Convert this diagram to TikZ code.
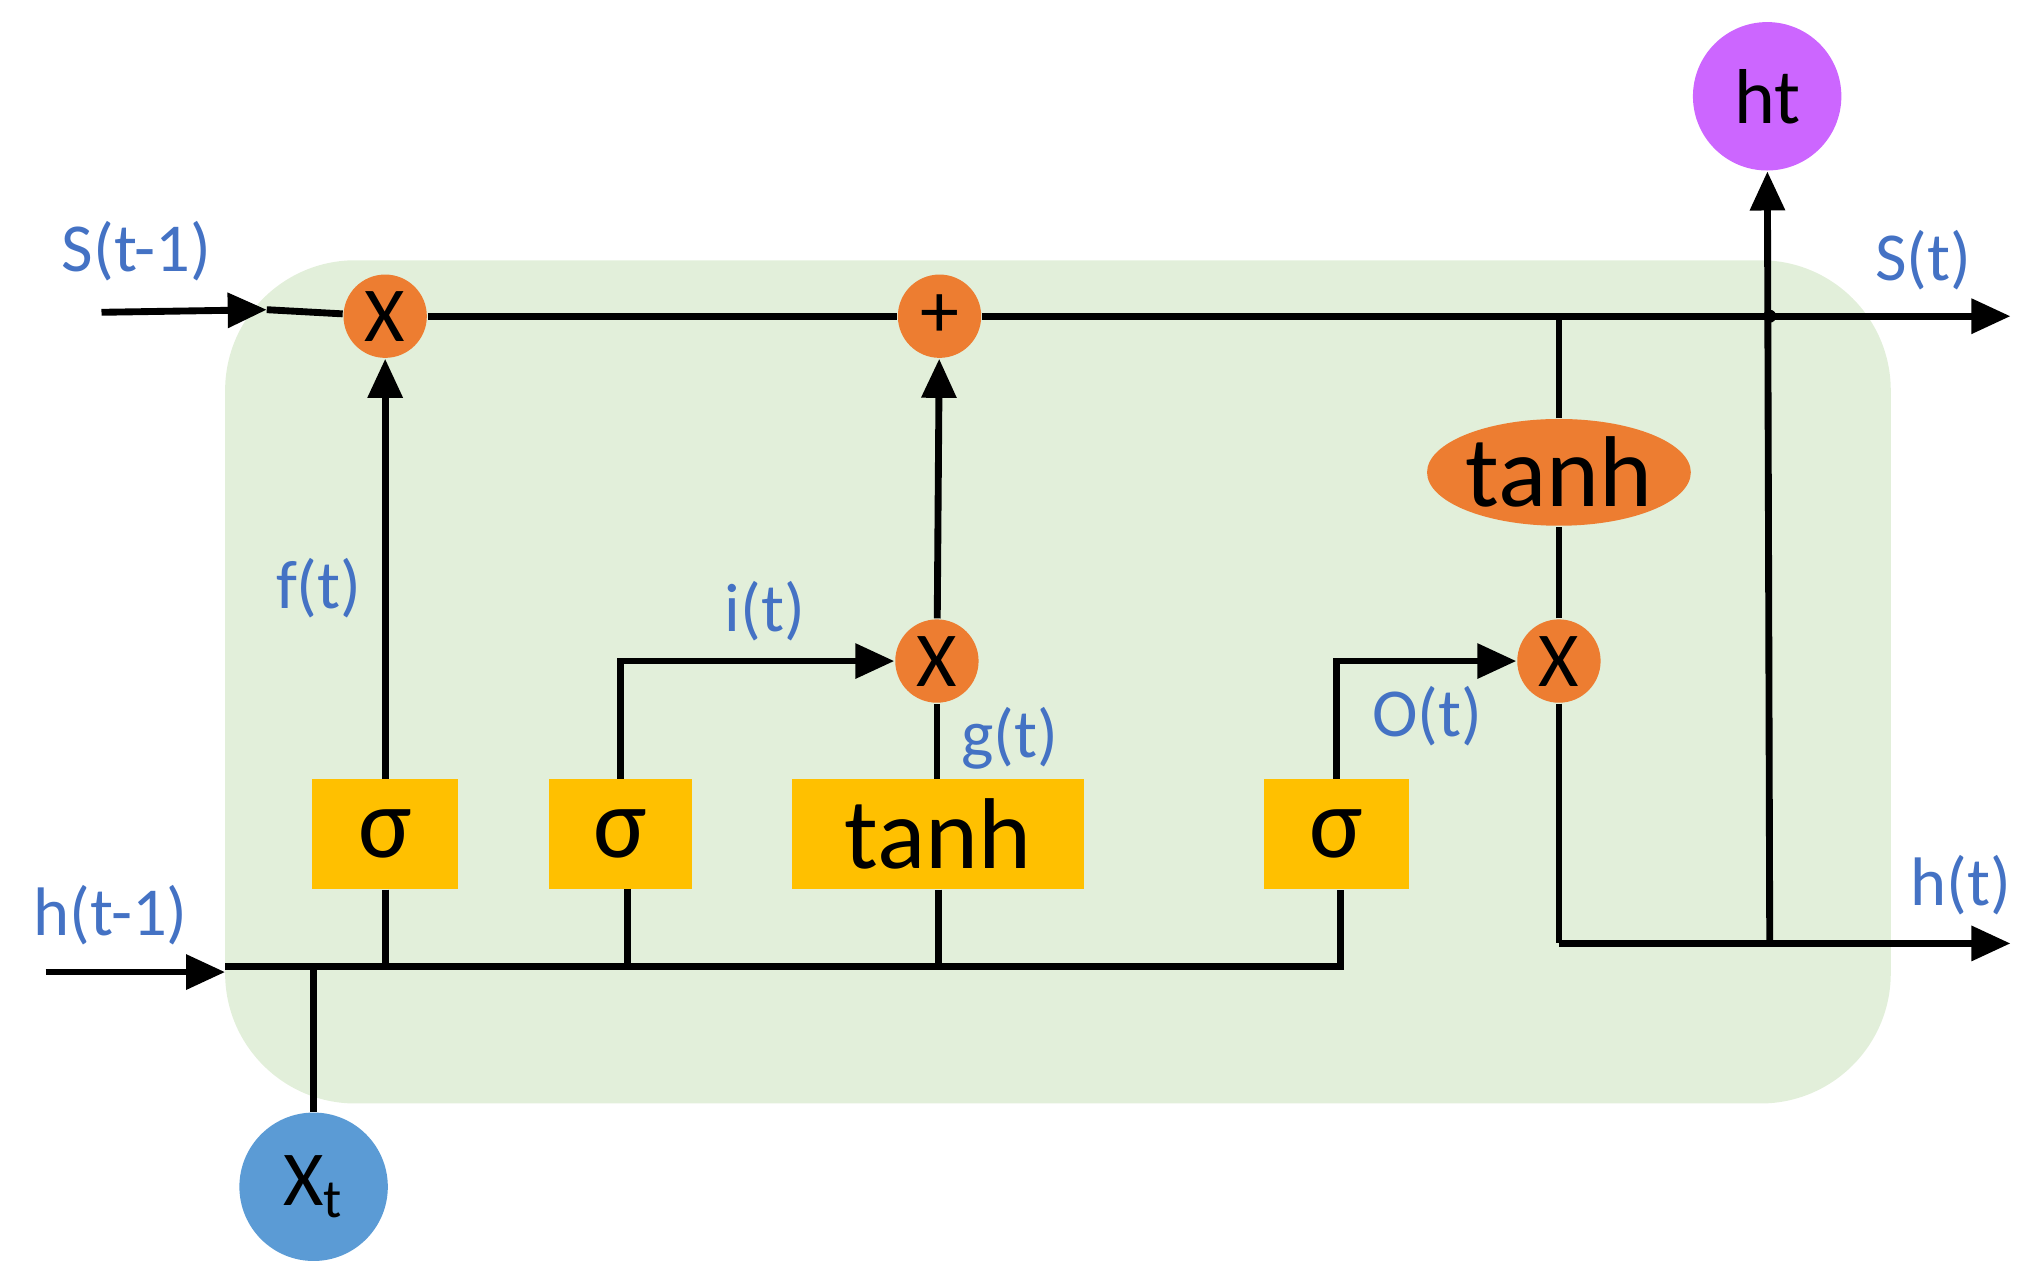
\documentclass[tikz,border=0pt]{standalone}
\usepackage{fontspec}
\setmainfont{Carlito}
\usetikzlibrary{positioning,arrows.meta,shapes.geometric}
\definecolor{cellgreen}{RGB}{226,239,218}
\definecolor{opor}{RGB}{237,125,49}
\definecolor{gateyl}{RGB}{255,192,0}
\definecolor{lblue}{RGB}{68,114,196}
\definecolor{inblue}{RGB}{91,155,213}
\definecolor{outpur}{RGB}{204,102,255}
\tikzset{op/.style={circle,fill=opor,minimum size=0.64cm,inner sep=0pt,font=\fontsize{17}{17}\selectfont},
         gate/.style={fill=gateyl,minimum height=0.84cm,inner sep=0pt,font=\fontsize{22}{22}\selectfont},
         lbl/.style={text=lblue,font=\fontsize{15}{15}\selectfont},
         io/.style={circle,minimum size=1.14cm,inner sep=0pt,font=\fontsize{17}{17}\selectfont}
}
\tikzstyle{arrow} = [line width=1.5pt,-{Triangle[length=0.3cm,width=0.26cm]}]
\tikzstyle{wire} = [line width=1.5pt]

\begin{document}
\begin{tikzpicture}[x=0.01cm,y=-0.01cm]
\useasboundingbox (0,0) rectangle (1560,985);
\fill[cellgreen,rounded corners=1cm] (173,200) rectangle (1453,848);

% state line
\node[op] (fx) at (296,243) {X};
\node[op] (add) at (722,243) {+};
\coordinate (sin) at (78,240);
\coordinate (sjoin) at (205,238);
\coordinate (sout) at (1545,243);
\node[lbl] (slast) at (105,193) {S(t-1)};
\node[lbl] (snow) at (1478,200) {S(t)};

% gates
\node[gate,minimum width=1.12cm] (sf) at (296,641) {σ};
\node[gate,minimum width=1.1cm] (si) at (477,641) {σ};
\node[gate,minimum width=2.24cm] (tg) at (721,641) {tanh};
\node[gate,minimum width=1.11cm] (so) at (1027,641) {σ};
\node[op] (ix) at (720,508) {X};
\node[op] (ox) at (1198,508) {X};
\node[ellipse,fill=opor,minimum width=1.95cm,minimum height=0.82cm,inner sep=0pt,font=\fontsize{22}{22}\selectfont] (tc) at (1198,363) {tanh};

% inputs and outputs
\node[io,fill=inblue] (xt) at (241,912) {X\textsubscript{t}};
\node[io,fill=outpur] (ht) at (1358,74) {ht};
\node[lbl] (hlast) at (85,703) {h(t-1)};
\node[lbl] (hnow) at (1507,680) {h(t)};
\node[lbl] (ft) at (245,452) {f(t)};
\node[lbl] (it) at (588,470) {i(t)};
\node[lbl] (gt) at (776,567) {g(t)};
\node[lbl] (ot) at (1097,550) {O(t)};

\coordinate (hin) at (35,747);
\coordinate (hbus) at (173,747);
\coordinate (bl) at (173,743);
\coordinate (br) at (1030,743);
\coordinate (hturn) at (1198,725);
\coordinate (hout) at (1545,725);
\coordinate (hup) at (1360,725);
\coordinate (stap) at (1198,243);

\draw[arrow] (sin)--(sjoin);
\draw[wire] (sjoin)--(fx);
\draw[wire] (fx)--(add);
\draw[arrow] (add)--(sout);
\fill (1360,243) circle (5);
\draw[wire] (ox)--(tc);
\draw[wire] (tc)--(stap);

\draw[arrow] (hin)--(hbus);
\draw[wire] (bl)--(br)--(so.south -| br);
\draw[wire] (xt)--(xt.north |- bl);
\draw[wire] (sf)--(sf.south |- bl);
\draw[wire] (482,683)--(482,743);
\draw[wire] (tg)--(tg.south |- bl);

\draw[arrow] (sf)--(fx);
\draw[arrow] (si.north)|-(ix);
\draw[wire] (tg.north -| ix)--(ix);
\draw[arrow] (ix)--(add);
\draw[arrow] (so.north)|-(ox);
\draw[wire] (ox)--(hturn);
\draw[arrow] (hturn)--(hout);
\draw[arrow] (hup)--(ht);
\end{tikzpicture}
\end{document}
